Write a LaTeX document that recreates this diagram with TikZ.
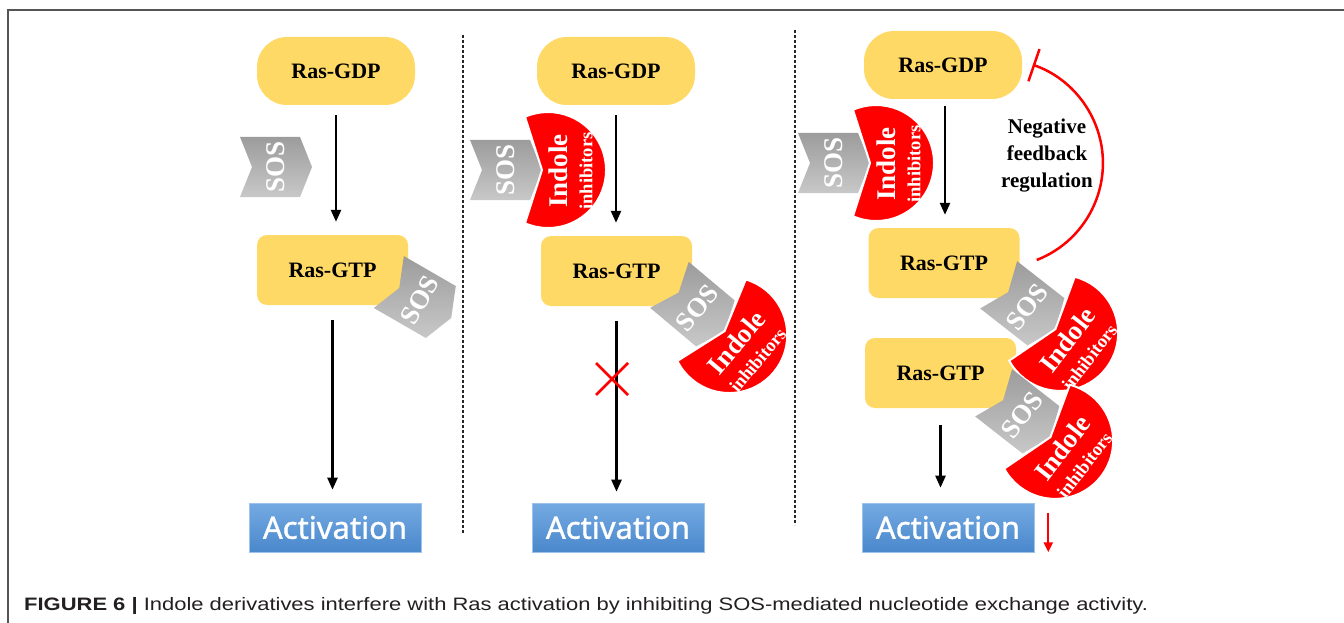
\documentclass[tikz,border=0pt]{standalone}
\usepackage{fontspec}
\setmainfont{Liberation Serif}
\newfontfamily\actfont{Noto Sans}[AutoFakeBold=1.2]
\newfontfamily\capfont{Liberation Sans}
\usetikzlibrary{arrows.meta,calc}
\definecolor{rasyellow}{HTML}{FFD966}
\definecolor{sosA}{HTML}{9C9C9C}
\definecolor{sosB}{HTML}{C8C8C8}
\definecolor{indred}{HTML}{FF0000}
\definecolor{actA}{HTML}{74AAE2}
\definecolor{actB}{HTML}{4A88CC}
\definecolor{frameclr}{HTML}{555555}
\definecolor{captxt}{HTML}{231F20}

\tikzset{
  gdpbox/.style={fill=rasyellow, rounded corners=30pt, minimum width=158pt, minimum height=68pt, inner sep=0pt, font=\bfseries\fontsize{22}{25}\selectfont},
  gtpbox/.style={fill=rasyellow, rounded corners=10pt, minimum width=151pt, minimum height=70pt, inner sep=0pt, font=\bfseries\fontsize{22}{25}\selectfont},
  actbox/.style={top color=actA, bottom color=actB, draw=actA!70!white, line width=0.6pt, minimum width=172pt, minimum height=49pt, inner sep=0pt, text=white, font=\actfont\bfseries\fontsize{31}{34}\selectfont},
  arr/.style={line width=2.4pt, -{Triangle[length=12pt,width=10pt]}},
  inhib/.style={indred, line width=2.5pt, -{Bar[width=34pt,line width=2.5pt]}},
  redarr/.style={indred, line width=2.2pt, -{Triangle[length=10pt,width=9pt]}},
  divider/.style={dash pattern=on 3pt off 2pt, line width=1.1pt, black!85},
  sosshape/.style={top color=sosA, bottom color=sosB, draw=none},
  sostext/.style={text=white, font=\bfseries\fontsize{27}{27}\selectfont, transform shape, rotate=90, inner sep=0pt},
  indshape/.style={fill=indred, draw=white, line width=2pt},
  indtext/.style={text=white, font=\bfseries\fontsize{27}{27}\selectfont, transform shape, rotate=90, inner sep=0pt},
  inhtext/.style={text=white, font=\bfseries\fontsize{18.5}{18.5}\selectfont, transform shape, rotate=90, inner sep=0pt},
  fbtext/.style={align=center, font=\bfseries\fontsize{21}{27}\selectfont, inner sep=0pt},
  xmarkline/.style={indred, line width=2.5pt},
}

\newcommand{\sosat}[4]{%
  \begin{scope}[shift={(#2,#3)}, rotate=#4]
    \path[sosshape] (-36,-30) -- (24,-30) -- (36,0) -- (24,30) -- (-36,30) -- (-24,0) -- cycle;
    \node[sostext] (#1) at (0,0) {SOS};
  \end{scope}}

\newcommand{\indoleat}[4]{%
  \begin{scope}[shift={(#2,#3)}, rotate=#4]
    \path[indshape] (0,-53.2) arc[start angle=-113.4, end angle=113.4, radius=58] -- (17,0) -- cycle;
    \node[indtext] (#1) at (33,1) {Indole};
    \node[inhtext] (#1i) at (61,1) {inhibitors};
  \end{scope}}

\begin{document}
\begin{tikzpicture}[x=1pt, y=-1pt]
\useasboundingbox (0,0) rectangle (1344,623);
\fill[white] (0,0) rectangle (1344,623);

% frame
\draw[frameclr, line width=1.5pt] (8,623) -- (8,10) -- (1344,10);

% dividers
\draw[divider] (463,35) -- (463,533);
\draw[divider] (795,30) -- (795,525);

% ---------- left panel ----------
\node[gdpbox] (gdp1) at (336,71) {Ras-GDP};
\node[gtpbox] (gtp1) at (332.5,270) {Ras-GTP};
\node[actbox] (act1) at (335,527.5) {Activation};
\sosat{sos1}{276}{167}{0}
\sosat{sos2}{420}{300}{-30}
\draw[arr, shorten <=10pt, shorten >=13pt] (gdp1.south) -- (gdp1.south |- gtp1.north);
\draw[arr, shorten <=15pt, shorten >=13pt] (gtp1.south) -- (gtp1.south |- act1.north);

% ---------- middle panel ----------
\node[gdpbox] (gdp2) at (616,71) {Ras-GDP};
\node[gtpbox] (gtp2) at (616.5,271) {Ras-GTP};
\node[actbox] (act2) at (618,527.5) {Activation};
\sosat{sos3}{506}{170}{0}
\indoleat{ind1}{525}{170}{0}
\sosat{sos4}{697}{308}{-40}
\indoleat{ind2}{711.6}{320.2}{-40}
\draw[arr, shorten <=10pt, shorten >=13pt] (gdp2.south) -- (gdp2.south |- gtp2.north);
\draw[arr, shorten <=15pt, shorten >=11pt] (gtp2.south) -- (gtp2.south |- act2.north);
\coordinate (xm) at (612,379);
\draw[xmarkline] ($(xm)+(-16,-16)$) -- ($(xm)+(16,16)$);
\draw[xmarkline] ($(xm)+(-16,16)$) -- ($(xm)+(16,-16)$);

% ---------- right panel ----------
\node[gdpbox] (gdp3) at (943,65) {Ras-GDP};
\node[gtpbox] (gtp3) at (944,263) {Ras-GTP};
\node[gtpbox] (gtp4) at (940.5,373) {Ras-GTP};
\node[actbox] (act3) at (948,527.5) {Activation};
\sosat{sos5}{834}{163}{0}
\indoleat{ind3}{853}{163}{0}
\sosat{sos6}{1027}{307}{-38}
\indoleat{ind4}{1042}{318.7}{-38}
\sosat{sos7}{1022}{415}{-38}
\indoleat{ind5}{1037}{426.7}{-38}
\draw[arr, shorten <=7pt, shorten >=13pt] ($(gdp3.south)+(2,0)$) -- ($(gdp3.south |- gtp3.north)+(2,0)$);
\draw[arr, shorten <=17pt, shorten >=15pt] (gtp4.south) -- (gtp4.south |- act3.north);
\coordinate (fbs) at ($(gtp3.east)+(17,-3)$);
\draw[inhib] (fbs) arc[start angle=68.7, end angle=-71, radius=104];
\node[fbtext] (fb) at (1047,156) {Negative\\feedback\\regulation};
\draw[redarr] ($(act3.north east)+(14,10)$) -- ($(act3.south east)+(14,0)$);

% caption
\node[anchor=west, inner sep=0pt, text=captxt, font=\capfont\fontsize{18}{20}\selectfont] (cap) at (24,606)
  {\scalebox{1.22}[1]{\textbf{FIGURE 6 |} Indole derivatives interfere with Ras activation by inhibiting SOS-mediated nucleotide exchange activity.}};
\end{tikzpicture}
\end{document}
